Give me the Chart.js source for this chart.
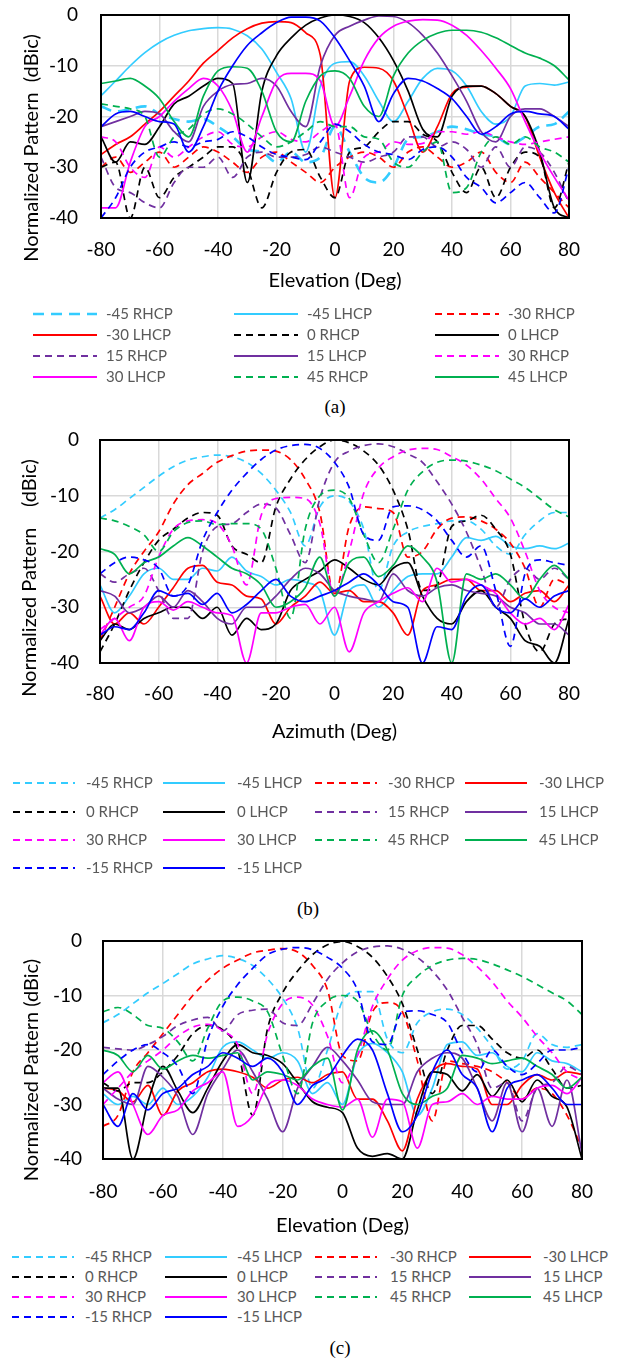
<!DOCTYPE html>
<html>
<head>
<meta charset="utf-8">
<script src="https://cdn.jsdelivr.net/npm/chart.js@4.4.0/dist/chart.umd.min.js"></script>
<style>
body { margin: 0; background: #fff; }
#page { position: relative; width: 618px; height: 1359px; overflow: hidden; font-family: Lato, sans-serif; }
canvas { position: absolute; left: 0; }
.ytitle { position: absolute; transform: translate(-50%, -50%) rotate(-90deg); white-space: pre; font-size: 20px; color: #000; }
.cap { position: absolute; transform: translate(-50%, -50%); font-family: "Liberation Serif", serif; font-size: 19px; color: #000; }
.leg { position: absolute; font-size: 15px; color: #595959; white-space: nowrap; line-height: 1; }
</style>
</head>
<body>
<div id="page">
  <canvas id="chartA" width="618" height="300" style="top:0"></canvas>
  <canvas id="chartB" width="618" height="330" style="top:420px"></canvas>
  <canvas id="chartC" width="618" height="320" style="top:920px"></canvas>
  <div class="ytitle" style="left:30px;top:148px">Normalized Pattern  (dBic)</div>
  <div class="ytitle" style="left:28px;top:578px">Normalized Pattern    (dBic)</div>
  <div class="ytitle" style="left:30px;top:1070px">Normalized Pattern (dBic)</div>
  <div class="cap" style="left:335px;top:407px">(a)</div>
  <div class="cap" style="left:308px;top:909px">(b)</div>
  <div class="cap" style="left:340px;top:1348px">(c)</div>
</div>
<script>
// angles in degrees, shared by all three plots
const angles = [-80,-75,-70,-65,-60,-55,-50,-45,-40,-35,-30,-25,-20,-15,-10,-5,0,5,10,15,20,25,30,35,40,45,50,55,60,65,70,75,80];

// (a) elevation cut
const aM45R = [-18,-19,-18.5,-18,-19.5,-20.5,-21,-20.5,-22,-24,-26.5,-27,-29,-27,-29,-28,-22,-27,-32,-33,-30,-24.5,-24,-23,-22,-22.5,-23.5,-24,-25.5,-24,-22,-21.5,-19];
const aM45L = [-15.9,-13,-10,-7.4,-5.4,-4,-3.1,-2.7,-2.5,-2.8,-4.1,-6.7,-11.3,-16.5,-27,-14,-9.5,-9.2,-12,-17,-21,-17,-12.5,-10.5,-11,-14,-19,-21.5,-20,-14,-13.5,-13.8,-13.2];
const aM30R = [-30,-28,-31,-29,-27,-30,-28,-26,-27,-29,-31,-28,-27,-29,-31,-33,-30,-28,-27,-28,-30,-27,-26,-28,-30,-29,-27,-31,-33,-29,-32,-35,-38];
const aM30L = [-27.5,-25.5,-24,-21.5,-19,-16,-13,-9.5,-7,-4.5,-2.7,-1.6,-1.3,-1.5,-3.5,-8,-36,-13,-10.3,-10.5,-13,-20,-27,-22,-15.5,-14.2,-14,-15.5,-18,-20,-28,-35,-40];
const a0R = [-30,-29,-40,-30,-36,-32,-30,-28,-26,-26,-30,-38,-31,-27,-26.5,-32,-36,-27,-26,-23,-21,-21,-23.5,-25,-31,-35,-30,-36,-30,-27,-28,-38,-29];
const a0L = [-24,-29,-25,-25.5,-22,-17.5,-16,-14,-12.5,-13.5,-33,-15,-8,-4.5,-2,-0.6,0,-0.3,-1.5,-4.5,-9,-15,-22.5,-24,-16,-14,-14,-15.5,-18,-20,-27,-38,-40];
const a15R = [-28,-34,-35,-37,-38,-33,-30,-30,-28,-32,-28,-27,-28,-28,-27.5,-26,-27,-28,-29,-28,-27,-24,-24,-26,-25,-26.5,-30,-26,-30,-26,-27,-31,-37];
const a15L = [-22,-21,-20,-19,-19.5,-23,-25,-18,-15,-13.7,-13.5,-12.5,-14,-19,-22,-10,-4,-2.2,-1,-0.2,-0.3,-1.5,-4,-7.5,-12,-17,-23,-25,-20,-18.5,-18.5,-20,-22];
const a30R = [-24,-25,-30,-32,-26,-28,-26,-24,-23,-25.5,-26,-24,-23,-24.5,-25,-23,-21.5,-36,-28,-27,-25,-25.5,-25.3,-23,-23,-23.5,-23,-24,-25,-25.5,-25,-24.5,-24];
const a30L = [-38,-38,-29,-22,-20,-17,-14.5,-12.5,-14,-19,-27,-20,-13,-11.5,-11.5,-13,-22,-16,-9,-4.5,-2.2,-1.2,-0.9,-1,-2,-4,-7,-10.5,-14.5,-21,-27,-32,-36.5];
const a45R = [-17.5,-18,-18.5,-20,-28,-24,-22.5,-19.5,-18.5,-19.5,-21.5,-24,-26,-25,-23,-21,-22,-22,-24,-24.5,-29,-30,-27,-25,-35,-34,-27,-24,-25.5,-24,-26,-27,-29];
const a45L = [-13.5,-13,-12.5,-14,-16.5,-21,-24,-16,-11,-10.2,-10.5,-15,-23,-25,-17,-12,-11,-12.5,-18,-20,-12,-7.5,-5,-3.6,-3,-3,-3.4,-4.5,-6,-7.5,-8.5,-10,-12.8];
const aM15R = [-40,-36,-30,-27,-26,-25,-26,-25,-24.5,-23,-24,-26,-27.5,-28,-28.5,-25,-21.5,-23,-25.5,-27,-27.5,-28.5,-26.5,-26,-28,-32,-34,-37,-35,-33,-36,-39,-30];
const aM15L = [-22,-19.5,-19,-20,-21,-21.5,-27,-22,-15,-10,-6,-3.5,-1.5,-0.4,-0.4,-1.2,-4.5,-9,-14,-21,-15.5,-12.5,-13,-14.5,-16.5,-20,-23.5,-22,-19.5,-19,-19.5,-20,-22.5];

// (b) azimuth cut
const bM45R = [-14,-12.5,-10.5,-8.5,-6.5,-4.8,-3.6,-3,-2.7,-3,-4,-6,-9,-13,-19,-12,-10,-11,-16,-27,-19,-16.5,-15.5,-15,-14.5,-14.5,-16,-19,-20.5,-17,-14.5,-13,-13];
const bM45L = [-26,-31,-28,-24,-23,-25,-25,-23,-23.5,-21,-23.5,-24.5,-26,-25,-25.5,-27,-35,-27,-26,-30,-27,-24.5,-24,-24,-21,-17.5,-18,-17.3,-19,-19.5,-19,-19.5,-18.5];
const bM30R = [-36,-30,-24,-20,-16.5,-11.5,-8,-6,-4,-2.8,-2,-1.8,-2,-3.5,-7,-13,-28,-15.5,-12,-12.3,-13,-21,-20,-16,-14,-13.8,-14.5,-16,-18.5,-23,-30,-25,-26];
const bM30L = [-28,-33,-31,-33,-30,-26.5,-23,-22.5,-25.5,-26,-28,-28.5,-33,-30,-28,-25.5,-27.5,-27,-29,-29,-31,-35,-27,-26,-25,-25,-27,-27,-29,-27.5,-27,-29,-26];
const b0R = [-38,-33,-27,-22,-18,-16,-14,-13,-13.5,-19,-20.5,-22,-12,-7,-3.5,-1.2,0,-0.5,-2,-4.5,-9,-16,-27,-26,-15.5,-14.5,-13.5,-16,-20.5,-33,-38,-33,-32];
const b0L = [-36,-33,-34,-32,-31,-30,-30,-32,-30,-35,-32,-34,-33,-27,-25,-23.5,-21.5,-23,-25,-26,-23,-22,-28,-32,-33,-29,-27,-30,-32,-36,-37,-40,-32];
const b15R = [-24,-25.5,-24,-23,-27,-32,-32,-20,-15.5,-15,-13,-11.5,-12.2,-17,-22,-10.5,-4,-2,-1,-0.7,-1.2,-2.5,-4,-7.5,-11.5,-16.5,-23,-30,-25,-23,-25,-23,-25];
const b15L = [-27,-28,-31,-30,-28,-30,-27,-29,-32,-33,-30,-30,-28,-25,-23,-24,-27,-28,-28.5,-29,-24,-27,-28,-26.5,-26,-27,-27.5,-28,-30,-31,-33,-33,-35];
const b30R = [-34,-32,-30,-28,-21,-16,-14.5,-14.3,-15,-19,-26,-13.5,-10.5,-10.3,-10.5,-15,-28,-20,-9.5,-5,-3,-1.8,-1.5,-1.7,-3,-4.5,-7,-10.5,-14,-20,-27,-30,-31];
const b30L = [-35,-32,-36,-30,-29,-30.5,-29,-30,-31,-31.5,-40,-31,-31,-30,-29.5,-33,-30,-38,-31,-29,-27.5,-26.5,-29,-23,-25.5,-25,-26,-27.5,-31,-33,-32,-34,-29.5];
const b45R = [-14,-14.5,-15.5,-17,-20,-16.5,-14.8,-14.5,-15.2,-15,-15,-16,-23,-32,-16,-10,-9,-10.5,-17,-22,-16,-9,-5.7,-4,-3.6,-3.8,-4.5,-5.5,-7,-8.5,-10.5,-12.5,-13.8];
const b45L = [-19.5,-20.5,-24,-22,-21,-19,-17.5,-19,-21,-23,-24,-26,-30,-29,-26.5,-21,-28,-22,-21,-24.5,-22.5,-19,-21,-25.5,-40,-24,-25,-24,-26,-28.5,-25,-22.5,-25];
const bM15R = [-24,-22,-21,-21.5,-23,-28,-26,-18,-13,-9,-6,-3.5,-1.8,-1,-0.8,-1.5,-4,-8.5,-17,-18,-12,-11.8,-12.5,-14.5,-18,-21,-19,-27,-37,-24,-21.5,-22,-22.5];
const bM15L = [-35,-33.5,-34,-31,-27,-28,-27.5,-29.5,-27.5,-31,-29.5,-27,-25,-28,-29,-28,-27,-25.5,-24,-26,-29,-30,-40,-33.5,-34,-28,-26,-30,-31,-28.5,-30,-28,-27];

// (c) elevation cut, second set
const cM45R = [-15,-13.5,-11.5,-9.5,-7.8,-6,-4.2,-3.3,-2.7,-3.2,-4.5,-7,-10.5,-16,-27,-20,-11,-9.3,-9.3,-18,-20.5,-15,-13,-12.5,-13.5,-16,-19.5,-23.5,-22,-17,-19,-19.5,-19];
const cM45L = [-28,-30,-28.5,-30,-27,-30,-28.5,-25,-19.5,-18.5,-20,-21.5,-20.5,-22,-28,-26,-30,-21,-18.8,-20.5,-24,-32,-27,-19,-18.5,-21,-20.5,-23,-24,-20.5,-22,-22.5,-24];
const cM30R = [-34,-32,-24,-20.5,-17,-13.5,-10,-7.2,-5,-3.5,-2.2,-1.7,-1.4,-2,-4.5,-9,-21,-22,-13,-11.3,-13,-22,-33,-22,-22.5,-23,-24,-26,-29,-27,-28,-32,-38];
const cM30L = [-27,-27.5,-29.5,-26.5,-32,-27.5,-26,-24,-23.5,-24,-25,-27,-25.5,-25,-26,-24.5,-24,-29,-29,-33,-38.5,-29,-24,-22.5,-23,-23.5,-30,-30,-26.5,-24.5,-25.5,-24,-24.5];
const c0R = [-26,-27.5,-26,-26,-24,-21,-17,-15.5,-16.3,-20,-32,-16,-9.5,-5.5,-2.5,-0.7,-0.1,-1,-3,-6.5,-11.5,-20,-28,-20,-15.5,-15.5,-18,-20.5,-21.5,-20,-23.5,-27,-26.5];
const c0L = [-27,-27,-40,-29.5,-23,-27.5,-31.5,-27,-22,-19,-20.5,-21,-22.5,-26,-29.5,-30.5,-31.5,-38,-39.5,-39,-40,-31,-24,-24.5,-27.5,-24.5,-28.5,-25.5,-29.5,-25.5,-28.5,-30.5,-40];
const c15R = [-19.5,-19.8,-20,-19,-17.5,-15.5,-14.5,-14,-16.5,-13.5,-12.7,-12.5,-15,-15.5,-11.5,-7,-4,-2,-1.1,-0.9,-1.5,-3,-5.5,-9,-14,-19,-27,-26,-33,-27,-26,-23,-24.5];
const c15L = [-27,-29,-30,-23,-25,-28.5,-35.5,-28,-23.5,-20,-24,-29,-35,-27,-23,-19.5,-22,-25.5,-29.5,-30,-30,-24,-21.5,-20.5,-21.5,-27,-33,-26,-35,-27,-34,-25.5,-39];
const c30R = [-30,-27,-24,-22,-20,-17.5,-15.8,-15.3,-16.5,-19,-28,-17,-11.5,-10.3,-11.8,-17.5,-26,-21,-12,-7,-3.5,-1.8,-1.2,-1.3,-2.5,-4.7,-7.5,-11,-14,-17.5,-20.5,-24,-25.5];
const c30L = [-26,-24,-30,-35.5,-32,-31,-27.5,-26,-24,-34,-32,-26.5,-25.5,-26.5,-29,-30,-30.5,-29,-36,-29,-29.5,-38,-30,-29.5,-28,-30,-28.5,-29,-29,-27,-26.5,-28,-25];
const c45R = [-13,-12.2,-13.5,-15.5,-16,-18.5,-22,-16,-11,-10.3,-11,-13,-21,-28,-15,-11,-10,-11,-17,-20,-10,-6.5,-4.5,-3.5,-3.2,-3.4,-4.2,-5.3,-6.5,-8,-9.5,-11,-13.5];
const c45L = [-20,-21,-24,-21,-23.5,-22,-21,-21.5,-21,-20.5,-25.5,-24,-24.5,-25.5,-23,-21.5,-31,-20,-16.5,-20,-28,-30,-28.5,-27,-21,-21.5,-22.5,-22,-21.5,-23,-24.5,-27,-25];
const cM15R = [-24.5,-22,-20,-19,-20.5,-23,-28,-18,-12,-8,-5,-2.5,-1.5,-1.2,-1.6,-3,-5,-9,-18.5,-19,-13,-12.8,-13.5,-15,-20.5,-24,-20,-23,-24.5,-22.5,-20,-20,-19.5];
const cM15L = [-30,-34,-28,-31,-28,-27,-24.5,-23,-20.5,-21.5,-23,-21.5,-24,-30,-26.5,-25,-21,-18,-20,-28,-35,-32,-24,-20,-24.5,-27,-35,-27,-25.5,-24.5,-27,-30,-30];

const CYAN = '#33ccff', RED = '#ff0000', BLACK = '#000000', PURPLE = '#7030a0';
const MAGENTA = '#ff00ff', GREEN = '#00b050', BLUE = '#0000ff';
const DASH = [7, 5];

// legend order follows the figure; -15 traces in (a) have no legend entry
const seriesA = [
  { label: '-45 RHCP', values: aM45R, color: CYAN, dash: [11, 7], width: 2.6 },
  { label: '-45 LHCP', values: aM45L, color: CYAN },
  { label: '-30 RHCP', values: aM30R, color: RED, dash: DASH },
  { label: '-30 LHCP', values: aM30L, color: RED },
  { label: '0 RHCP', values: a0R, color: BLACK, dash: DASH },
  { label: '0 LHCP', values: a0L, color: BLACK },
  { label: '15 RHCP', values: a15R, color: PURPLE, dash: DASH },
  { label: '15 LHCP', values: a15L, color: PURPLE },
  { label: '30 RHCP', values: a30R, color: MAGENTA, dash: DASH },
  { label: '30 LHCP', values: a30L, color: MAGENTA },
  { label: '45 RHCP', values: a45R, color: GREEN, dash: DASH },
  { label: '45 LHCP', values: a45L, color: GREEN },
  { label: '-15 RHCP', values: aM15R, color: BLUE, dash: DASH, noLegend: true },
  { label: '-15 LHCP', values: aM15L, color: BLUE, noLegend: true }
];
const seriesB = [
  { label: '-45 RHCP', values: bM45R, color: CYAN, dash: DASH },
  { label: '-45 LHCP', values: bM45L, color: CYAN },
  { label: '-30 RHCP', values: bM30R, color: RED, dash: DASH },
  { label: '-30 LHCP', values: bM30L, color: RED },
  { label: '0 RHCP', values: b0R, color: BLACK, dash: DASH },
  { label: '0 LHCP', values: b0L, color: BLACK },
  { label: '15 RHCP', values: b15R, color: PURPLE, dash: DASH },
  { label: '15 LHCP', values: b15L, color: PURPLE },
  { label: '30 RHCP', values: b30R, color: MAGENTA, dash: DASH },
  { label: '30 LHCP', values: b30L, color: MAGENTA },
  { label: '45 RHCP', values: b45R, color: GREEN, dash: DASH },
  { label: '45 LHCP', values: b45L, color: GREEN },
  { label: '-15 RHCP', values: bM15R, color: BLUE, dash: DASH },
  { label: '-15 LHCP', values: bM15L, color: BLUE }
];
const seriesC = [
  { label: '-45 RHCP', values: cM45R, color: CYAN, dash: DASH },
  { label: '-45 LHCP', values: cM45L, color: CYAN },
  { label: '-30 RHCP', values: cM30R, color: RED, dash: DASH },
  { label: '-30 LHCP', values: cM30L, color: RED },
  { label: '0 RHCP', values: c0R, color: BLACK, dash: DASH },
  { label: '0 LHCP', values: c0L, color: BLACK },
  { label: '15 RHCP', values: c15R, color: PURPLE, dash: DASH },
  { label: '15 LHCP', values: c15L, color: PURPLE },
  { label: '30 RHCP', values: c30R, color: MAGENTA, dash: DASH },
  { label: '30 LHCP', values: c30L, color: MAGENTA },
  { label: '45 RHCP', values: c45R, color: GREEN, dash: DASH },
  { label: '45 LHCP', values: c45L, color: GREEN },
  { label: '-15 RHCP', values: cM15R, color: BLUE, dash: DASH },
  { label: '-15 LHCP', values: cM15L, color: BLUE }
];

const xTicks = [-80, -60, -40, -20, 0, 20, 40, 60, 80];
const yTicks = [-40, -30, -20, -10, 0];

// black frame around the plot area
const framePlugin = {
  id: 'frame',
  afterDatasetsDraw(chart) {
    const { ctx, chartArea: a } = chart;
    ctx.save();
    ctx.strokeStyle = '#000';
    ctx.lineWidth = 2;
    ctx.strokeRect(a.left, a.top, a.right - a.left, a.bottom - a.top);
    ctx.restore();
  }
};

function makeChart(id, series, xTitle, geo) {
  return new Chart(document.getElementById(id), {
    type: 'line',
    data: {
      datasets: series.map(s => ({
        label: s.label,
        data: angles.map((a, i) => ({ x: a, y: s.values[i] })),
        borderColor: s.color,
        borderWidth: s.width || 1.7,
        borderDash: s.dash || [],
        pointRadius: 0,
        cubicInterpolationMode: 'monotone',
        fill: false
      })).reverse()
    },
    options: {
      responsive: false,
      animation: false,
      layout: { padding: { top: geo.top, right: geo.right, left: 0, bottom: 0 } },
      plugins: { legend: { display: false }, tooltip: { enabled: false } },
      scales: {
        x: {
          type: 'linear', min: xTicks[0], max: xTicks[xTicks.length - 1],
          afterBuildTicks: s => { s.ticks = xTicks.map(v => ({ value: v })); },
          ticks: { color: '#000', font: { family: 'Lato', size: 19 }, padding: geo.xPad, maxRotation: 0 },
          grid: { color: '#d9d9d9', lineWidth: 1.5, drawTicks: false },
          border: { display: false },
          title: { display: true, text: xTitle, color: '#000', font: { family: 'Lato', size: 20 }, padding: { top: 0, bottom: geo.titlePad } },
          afterFit: s => { s.height = geo.xHeight; s.paddingLeft = 0; s.paddingRight = 0; }
        },
        y: {
          min: yTicks[0], max: yTicks[yTicks.length - 1],
          afterBuildTicks: s => { s.ticks = yTicks.map(v => ({ value: v })); },
          ticks: { color: '#000', font: { family: 'Lato', size: 19 }, padding: geo.yPad },
          grid: { color: '#d9d9d9', lineWidth: 1.5, drawTicks: false },
          border: { display: false },
          afterFit: s => { s.width = geo.yWidth; s.paddingTop = 0; s.paddingBottom = 0; }
        }
      }
    },
    plugins: [framePlugin]
  });
}

function makeLegend(series, cols, textX, rows, sampleLen) {
  const page = document.getElementById('page');
  const items = series.filter(s => !s.noLegend);
  items.forEach((s, i) => {
    const c = i % cols.length, r = Math.floor(i / cols.length);
    const y = rows[r];
    const w = s.width || 2.2;
    const svg = document.createElementNS('http://www.w3.org/2000/svg', 'svg');
    svg.setAttribute('width', sampleLen);
    svg.setAttribute('height', 8);
    svg.style.position = 'absolute';
    svg.style.left = cols[c] + 'px';
    svg.style.top = (y - 4) + 'px';
    const ln = document.createElementNS('http://www.w3.org/2000/svg', 'line');
    ln.setAttribute('x1', 0); ln.setAttribute('x2', sampleLen);
    ln.setAttribute('y1', 4); ln.setAttribute('y2', 4);
    ln.setAttribute('stroke', s.color);
    ln.setAttribute('stroke-width', w);
    if (s.dash) ln.setAttribute('stroke-dasharray', s.dash.join(' '));
    svg.appendChild(ln);
    page.appendChild(svg);
    const t = document.createElement('div');
    t.className = 'leg';
    t.textContent = s.label;
    t.style.left = textX[c] + 'px';
    t.style.top = (y - 8) + 'px';
    page.appendChild(t);
  });
}

makeChart('chartA', seriesA, 'Elevation (Deg)',
  { top: 15, right: 49, yWidth: 101, xHeight: 82, xPad: 20, titlePad: 7, yPad: 23 });
makeChart('chartB', seriesB, 'Azimuth (Deg)',
  { top: 20, right: 49, yWidth: 100, xHeight: 87, xPad: 19, titlePad: 6, yPad: 21 });
makeChart('chartC', seriesC, 'Elevation (Deg)',
  { top: 21, right: 36, yWidth: 103, xHeight: 81, xPad: 21, titlePad: 2, yPad: 21 });

makeLegend(seriesA, [33, 234, 435], [106, 307, 508], [314, 335, 356, 377], 64);
makeLegend(seriesB, [13, 163, 315, 465], [86, 237, 388, 539], [783, 812, 840, 868], 62);
makeLegend(seriesC, [12, 165, 315, 469], [85, 237, 390, 543], [1257, 1277, 1297, 1317], 62);
</script>
</body>
</html>
